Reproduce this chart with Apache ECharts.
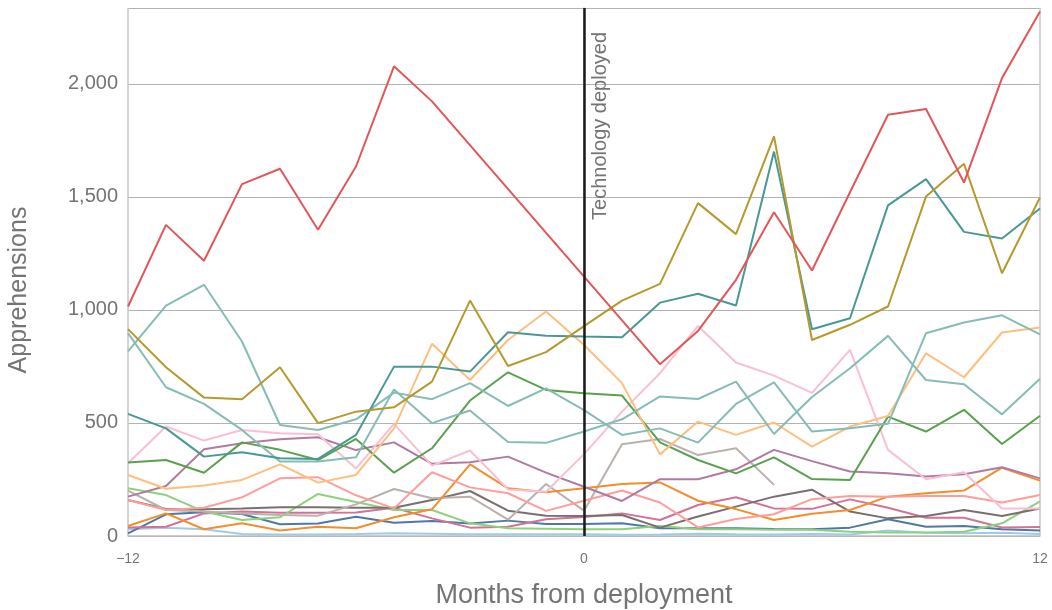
<!DOCTYPE html>
<html>
<head>
<meta charset="utf-8">
<title>Apprehensions by months from deployment</title>
<script src="https://cdn.jsdelivr.net/npm/echarts@6/dist/echarts.min.js"></script>
<style>
  html, body { margin: 0; padding: 0; background: #ffffff; }
  #chart { width: 1052px; height: 610px; }
</style>
</head>
<body>
<div id="chart"></div>
<script>
// Months relative to technology deployment
const months = [-12,-11,-10,-9,-8,-7,-6,-5,-4,-3,-2,-1,0,1,2,3,4,5,6,7,8,9,10,11,12];
const xTickLabels = { '-12': '\u221212', '0': '0', '12': '12' };

// Monthly apprehensions, one array per sector (null = no report that month)
const sectorRed        = [1015,1376,1217,1556,1624,1354,1634,2077,1922,null,null,null,null,null,760,907,1133,1432,1174,1520,1863,1888,1563,2025,2320];
const sectorOlive      = [915,746,612,605,746,499,550,569,683,1041,752,813,928,1041,1115,1472,1335,1767,867,934,1015,1501,1646,1162,1497];
const sectorTeal       = [540,476,351,370,344,341,447,749,749,727,901,886,882,879,1032,1071,1019,1700,914,963,1462,1578,1345,1316,1448];
const sectorLightTealA = [816,1019,1111,860,491,469,516,634,605,676,575,653,557,447,476,413,584,679,462,476,496,897,944,976,892];
const sectorLightTealB = [897,658,584,469,329,329,348,648,499,555,416,412,462,516,617,606,683,451,615,742,885,690,671,538,695];
const sectorLightOrange= [270,209,223,248,317,236,270,476,850,690,867,993,845,676,361,506,447,502,395,484,531,808,702,900,922];
const sectorGreen      = [325,336,280,414,381,336,429,280,388,599,724,646,631,621,414,336,277,348,252,248,528,462,558,407,532];
const sectorLightPink  = [322,484,422,469,454,450,299,496,311,378,206,196,362,550,720,929,767,709,633,823,381,251,282,122,122];
const sectorPurple     = [174,221,384,410,428,437,380,414,319,326,351,280,218,155,251,251,295,381,331,285,277,263,273,304,255];
const sectorSalmon     = [159,115,125,171,255,260,180,122,282,215,189,111,156,201,148,38,75,96,163,177,174,177,177,148,181];
const sectorOrange     = [44,100,30,56,24,41,34,83,118,317,211,193,211,230,237,156,119,71,98,115,174,189,201,302,245];
const sectorLightGrey  = [201,115,108,100,93,90,140,208,167,174,72,230,112,406,429,358,388,226,null,null,null,null,null,null,null];
const sectorGrey       = [159,119,118,122,127,127,125,125,159,199,112,90,88,93,37,86,130,174,205,108,78,88,115,88,122];
const sectorLightGreen = [211,181,108,71,83,186,150,115,115,56,34,32,30,30,44,30,30,28,28,19,16,16,19,56,153];
const sectorMagenta    = [38,41,100,108,103,103,104,125,78,37,41,74,84,100,71,137,171,122,120,162,125,81,81,38,40];
const sectorBlue       = [12,96,105,97,52,55,85,59,66,55,68,53,53,56,34,34,34,31,30,37,74,41,44,30,24];
const sectorLightBlue  = [30,37,30,9,7,7,9,12,10,8,8,8,8,6,7,10,8,7,9,7,24,14,12,14,9];

const deploymentMonth = 0;
const yMax = 2335;

const lines = [
  { data: sectorLightBlue,   color: '#a0cbe8' },
  { data: sectorBlue,        color: '#4e79a7' },
  { data: sectorMagenta,     color: '#d37295' },
  { data: sectorLightGreen,  color: '#8cd17d' },
  { data: sectorGrey,        color: '#79706e' },
  { data: sectorLightGrey,   color: '#bab0ac' },
  { data: sectorOrange,      color: '#f28e2b' },
  { data: sectorSalmon,      color: '#ff9d9a' },
  { data: sectorPurple,      color: '#b07aa1' },
  { data: sectorLightPink,   color: '#fabfd2' },
  { data: sectorGreen,       color: '#59a14f' },
  { data: sectorLightOrange, color: '#ffbe7d' },
  { data: sectorLightTealB,  color: '#86bcb6' },
  { data: sectorLightTealA,  color: '#86bcb6' },
  { data: sectorTeal,        color: '#499894' },
  { data: sectorOlive,       color: '#b6992d' },
  { data: sectorRed,         color: '#e15759' }
];

const FONT = '"Liberation Sans", Arial, sans-serif';
const TEXT = '#747474';

const series = lines.map(l => ({
  type: 'line',
  data: months.map((m, k) => [m, l.data[k]]),
  connectNulls: true,
  showSymbol: false,
  symbol: 'none',
  silent: true,
  animation: false,
  lineStyle: { color: l.color, width: 2 },
  itemStyle: { color: l.color },
  z: 2
}));

// Vertical marker for the deployment month
series.push({
  type: 'line',
  data: [],
  silent: true,
  animation: false,
  z: 5,
  markLine: {
    silent: true,
    animation: false,
    symbol: 'none',
    lineStyle: { color: '#1b1b1b', width: 2.5, type: 'solid' },
    label: {
      show: true,
      formatter: 'Technology deployed',
      position: 'insideEndBottom',
      color: TEXT,
      fontFamily: FONT,
      fontSize: 20,
      distance: [24, 6]
    },
    data: [{ xAxis: deploymentMonth }]
  }
});

const chart = echarts.init(document.getElementById('chart'), null, { renderer: 'canvas' });
chart.setOption({
  animation: false,
  backgroundColor: '#ffffff',
  grid: { left: 128, right: 12, top: 8, bottom: 74, containLabel: false, outerBoundsMode: 'none' },
  xAxis: {
    type: 'value',
    min: -12,
    max: 12,
    interval: 12,
    name: 'Months from deployment',
    nameLocation: 'middle',
    nameGap: 46,
    nameTextStyle: { color: TEXT, fontFamily: FONT, fontSize: 27 },
    axisLine: { show: true, lineStyle: { color: '#bdbdbd', width: 1.5 } },
    axisTick: { show: false },
    splitLine: { show: true, lineStyle: { color: '#c4c4c4', width: 1.5 } },
    axisLabel: {
      color: TEXT, fontFamily: FONT, fontSize: 14, margin: 16,
      formatter: v => xTickLabels[String(v)]
    }
  },
  yAxis: {
    type: 'value',
    min: 0,
    max: yMax,
    interval: 500,
    name: 'Apprehensions',
    nameLocation: 'middle',
    nameGap: 96,
    nameTextStyle: { color: TEXT, fontFamily: FONT, fontSize: 25, padding: [0, 36, 0, 0] },
    axisLine: { show: true, lineStyle: { color: '#bdbdbd', width: 1.5 } },
    axisTick: { show: false },
    splitLine: { show: true, lineStyle: { color: '#b3b3b3', width: 1 } },
    axisLabel: {
      color: TEXT, fontFamily: FONT, fontSize: 20, margin: 10,
      showMaxLabel: false,
      formatter: v => v.toLocaleString('en-US')
    }
  },
  series: series
});
</script>
</body>
</html>
